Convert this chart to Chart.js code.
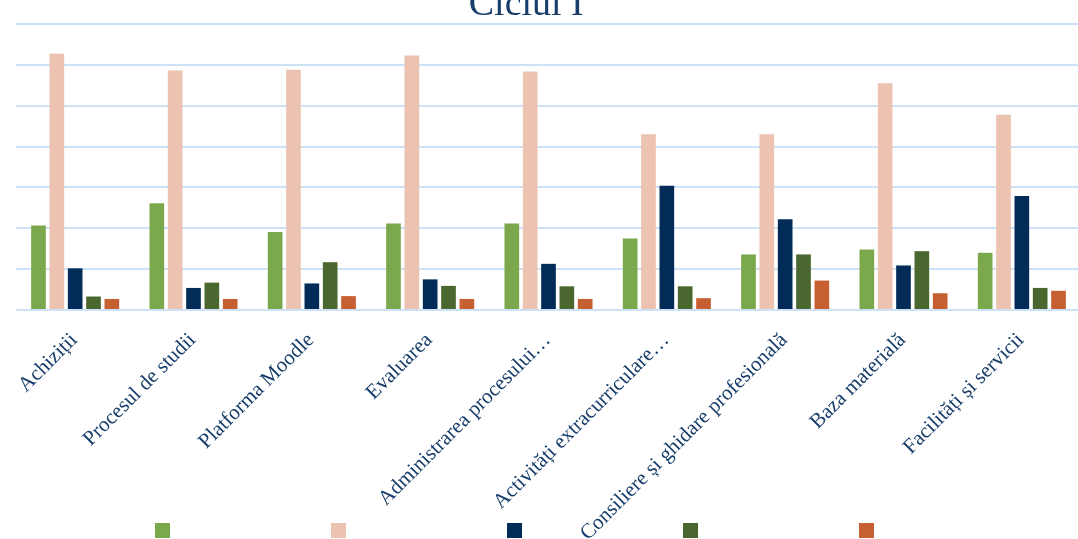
<!DOCTYPE html>
<html>
<head>
<meta charset="utf-8">
<script src="https://cdn.jsdelivr.net/npm/chart.js@4/dist/chart.umd.min.js"></script>
<style>
  html, body { margin:0; padding:0; background:#fff; overflow:hidden; width:1078px; height:539px; }
  #wrap { position:absolute; left:0; top:-14px; width:1081px; height:562px; }
</style>
</head>
<body>
<div id="wrap"><canvas id="chart"></canvas></div>
<script>
'use strict';
const categories = ['Achiziții', 'Procesul de studii', 'Platforma Moodle', 'Evaluarea',
  'Administrarea procesului…', 'Activități extracurriculare…', 'Consiliere și ghidare profesională',
  'Baza materială', 'Facilități și servicii'];
const seriesNames = ['', '', '', '', ''];
const serie1 = [20.7, 26.1, 19.1, 21.2, 21.2, 17.5, 13.6, 14.8, 14.0];
const serie2 = [62.7, 58.6, 58.8, 62.3, 58.4, 43.0, 43.0, 55.5, 47.8];
const serie3 = [10.2, 5.4, 6.5, 7.5, 11.3, 30.4, 22.2, 10.9, 27.9];
const serie4 = [3.3, 6.7, 11.7, 5.9, 5.8, 5.8, 13.6, 14.4, 5.4];
const serie5 = [2.7, 2.7, 3.4, 2.7, 2.7, 2.9, 7.2, 4.1, 4.7];
const yTicks = [0, 10, 20, 30, 40, 50, 60, 70];

const colors = ['#7ba84c', '#ecc2b0', '#022c57', '#4a672f', '#c65f31'];
const txt = '#173d6b';
const gridCol = '#cde2f7';

const ds = (i, data) => ({
  label: seriesNames[i], data, backgroundColor: colors[i], borderWidth: 0,
  categoryPercentage: .775, barPercentage: .8,
});

// x labels run down over the legend row, so let them draw past the axis box
const unclipLabels = {
  id: 'unclipLabels',
  afterLayout(chart) { chart.scales.x.bottom = chart.height; },
};

new Chart(document.getElementById('chart'), {
  type: 'bar',
  data: { labels: categories,
    datasets: [ds(0, serie1), ds(1, serie2), ds(2, serie3), ds(3, serie4), ds(4, serie5)] },
  plugins: [unclipLabels],
  options: {
    responsive: true, maintainAspectRatio: false, animation: false,
    layout: { padding: 0 },
    plugins: {
      title: { display: true, text: 'Ciclul I\u00a0\u00a0\u00a0', color: txt,
        font: { family: 'Liberation Serif', size: 38, weight: 'normal', lineHeight: 1 }, padding: 0 },
      legend: { position: 'bottom', align: 'start',
        labels: { boxWidth: 15, boxHeight: 15, padding: 155, font: { size: 12 } } },
      tooltip: { enabled: false },
    },
    scales: {
      x: {
        grid: { display: false }, border: { display: false },
        ticks: { color: txt, font: { family: 'Liberation Serif', size: 21 },
          minRotation: 45, maxRotation: 45, autoSkip: false, padding: 10, labelOffset: -1 },
        afterFit: s => { s.height = 58; },
      },
      y: {
        min: yTicks[0], max: yTicks[yTicks.length - 1],
        afterBuildTicks: s => { s.ticks = yTicks.map(v => ({ value: v })); },
        grid: { color: gridCol, lineWidth: 2, drawTicks: false },
        border: { display: false },
        ticks: { display: false },
        afterFit: s => { s.width = 16; },
      },
    },
  },
});
</script>
</body>
</html>
